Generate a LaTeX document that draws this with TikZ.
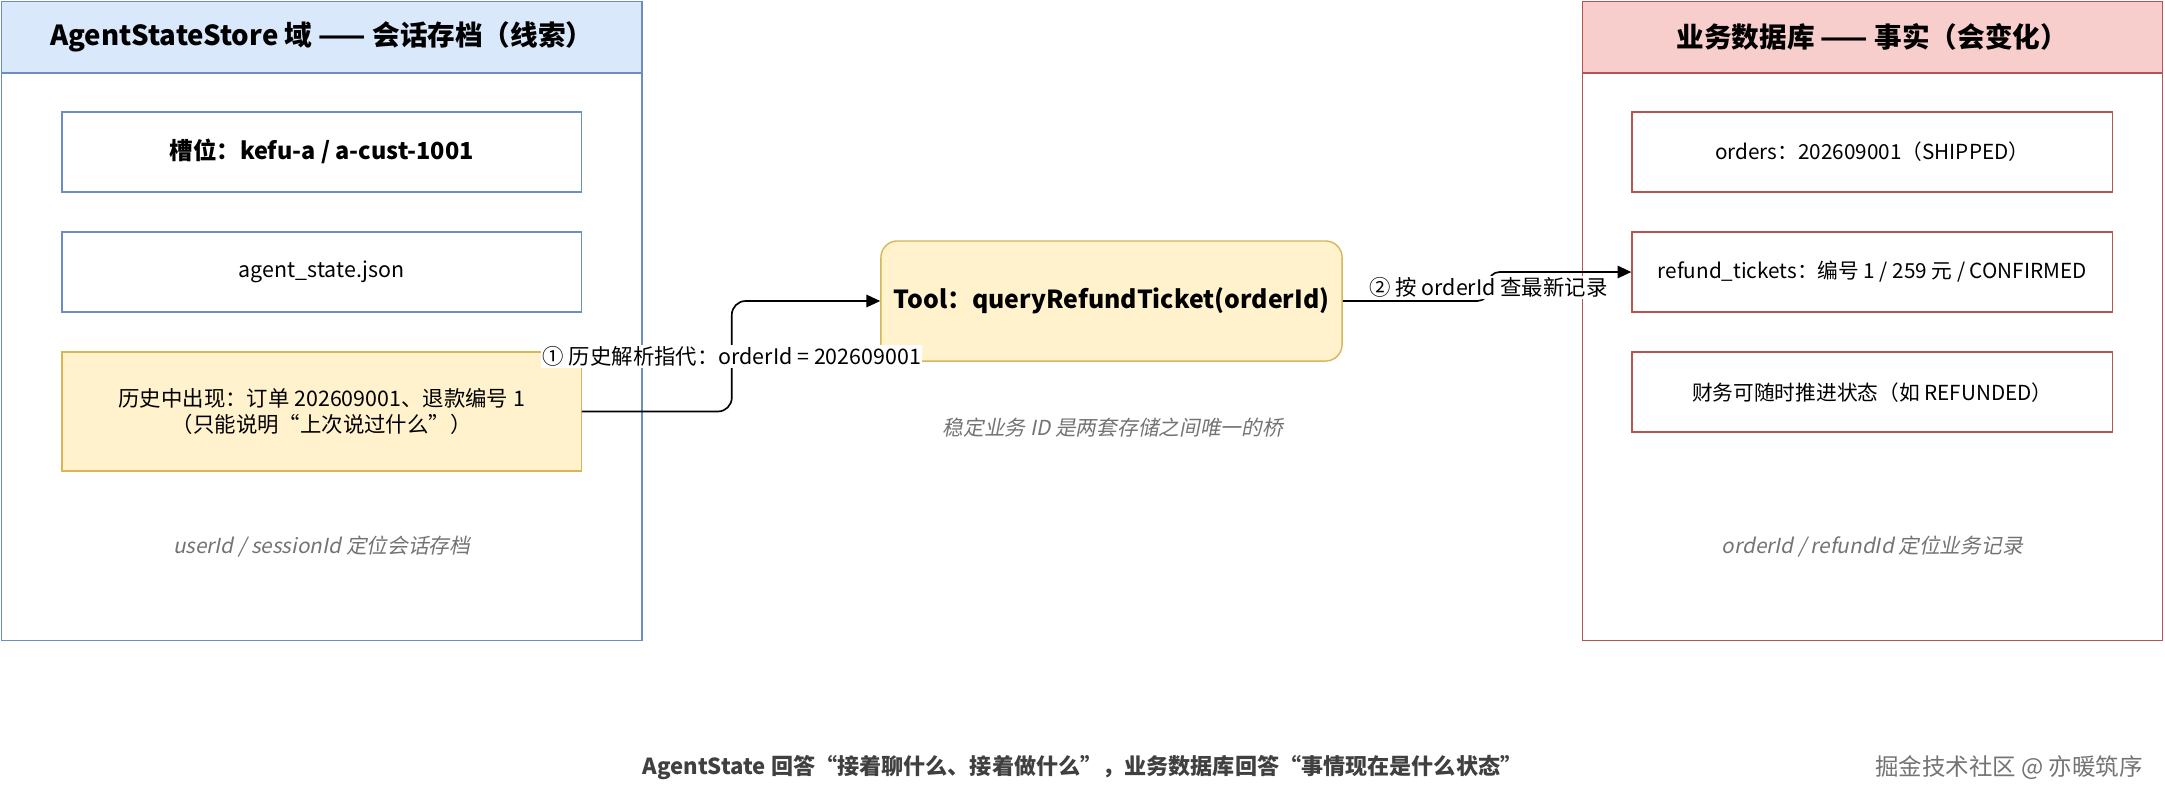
\documentclass[tikz,border=0pt]{standalone}
\usepackage{fontspec}
\setmainfont{Noto Sans CJK SC}
\newfontfamily\slfont{Noto Sans CJK SC}[FakeSlant=0.2]
\usetikzlibrary{positioning,arrows.meta}
\definecolor{bluefill}{HTML}{DAE8FC}
\definecolor{blueline}{HTML}{6C8EBF}
\definecolor{redfill}{HTML}{F8CECC}
\definecolor{redline}{HTML}{B85450}
\definecolor{yelfill}{HTML}{FFF2CC}
\definecolor{yelline}{HTML}{D6B656}
\tikzstyle{bbox} = [draw=blueline, line width=1pt, minimum width=376pt, minimum height=58pt, font=\fontsize{15.5}{19}\selectfont, align=center]
\tikzstyle{rbox} = [draw=redline, line width=1pt, minimum width=348pt, minimum height=58pt, font=\fontsize{15}{18}\selectfont, align=center]
\tikzstyle{note} = [text=black!55, font=\fontsize{15}{18}\selectfont\slfont]
\tikzstyle{lbl} = [fill=white, inner sep=1pt, font=\fontsize{15.5}{18}\selectfont]

\begin{document}
\begin{tikzpicture}[x=1pt,y=-1pt]
    \useasboundingbox (0,0) rectangle (1568,582);
    % left panel
    \draw[blueline, line width=1pt] (1,1) rectangle (465,464);
    \node (lhead) [draw=blueline, fill=bluefill, line width=1pt, minimum width=464pt, minimum height=52pt, font=\fontsize{20}{24}\selectfont\bfseries] at (233,27) {AgentStateStore 域 —— 会话存档（线索）};
    \node (slot) [bbox, font=\fontsize{17}{20}\selectfont\bfseries] at (233,110) {槽位：kefu-a / a-cust-1001};
    \node (json) [bbox] at (233,197) {agent\_state.json};
    \node (hist) [bbox, draw=yelline, fill=yelfill, minimum height=86pt] at (233,298) {历史中出现：订单 202609001、退款编号 1\\（只能说明“上次说过什么”）};
    \node (lnote) [note] at (233,396) {userId / sessionId 定位会话存档};
    % right panel
    \draw[redline, line width=1pt] (1146,1) rectangle (1566,464);
    \node (rhead) [draw=redline, fill=redfill, line width=1pt, minimum width=420pt, minimum height=52pt, font=\fontsize{20}{24}\selectfont\bfseries] at (1356,27) {业务数据库 —— 事实（会变化）};
    \node (orders) [rbox] at (1356,110) {orders：202609001（SHIPPED）};
    \node (refund) [rbox, font=\fontsize{15}{18}\selectfont] at (1356,197) {refund\_tickets：编号 1 / 259 元 / CONFIRMED};
    \node (fin) [rbox] at (1356,284) {财务可随时推进状态（如 REFUNDED）};
    \node (rnote) [note] at (1356,396) {orderId / refundId 定位业务记录};
    % tool
    \node (tool) [draw=yelline, fill=yelfill, line width=1pt, rounded corners=12pt, minimum width=334pt, minimum height=87pt, font=\fontsize{18}{22}\selectfont\bfseries] at (805,218) {Tool：queryRefundTicket(orderId)};
    \node (bridge) [note] at (806,310) {稳定业务 ID 是两套存储之间唯一的桥};
    % connectors
    \coordinate (c1) at (530,298);
    \coordinate (c2) at (1078,197);
    \draw[line width=1.2pt, -{Triangle[length=10pt,width=9pt]}, rounded corners=10pt] (hist.east) -- (c1) -- (c1 |- tool.west) -- (tool.west);
    \node (l1) [lbl] at (530,258) {① 历史解析指代：orderId = 202609001};
    \draw[line width=1.2pt, -{Triangle[length=10pt,width=9pt]}, rounded corners=8pt] (tool.east) -- (c2 |- tool.east) -- (c2) -- (refund.west);
    \node (l2) [lbl] at (1078,208) {② 按 orderId 查最新记录};
    % footer
    \node (foot) [text=black!75, font=\fontsize{16}{19}\selectfont\bfseries] at (784,556) {AgentState 回答“接着聊什么、接着做什么”，业务数据库回答“事情现在是什么状态”};
    \node (mark) [text=black!55, font=\fontsize{17}{20}\selectfont] at (1455,556) {掘金技术社区 @ 亦暖筑序};
\end{tikzpicture}
\end{document}
